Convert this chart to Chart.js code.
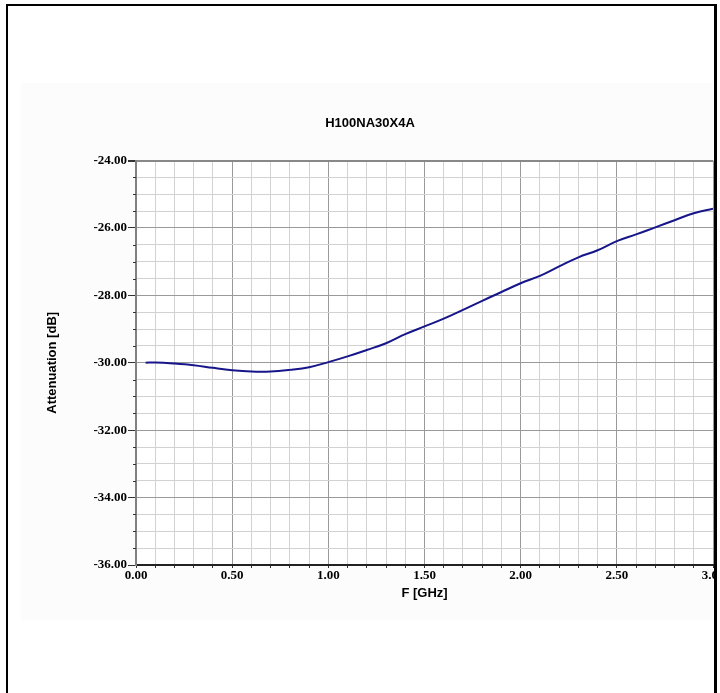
<!DOCTYPE html>
<html>
<head>
<meta charset="utf-8">
<script src="https://cdn.jsdelivr.net/npm/chart.js@4.4.1/dist/chart.umd.min.js"></script>
<style>
  html, body { margin: 0; padding: 0; background: #fff; overflow: hidden; }
  #wrap { position: relative; width: 717px; height: 693px; overflow: hidden; }
  #panel { position: absolute; left: 21px; top: 83px; width: 692px; height: 537px; background: #fcfcfc; }
  #chart { position: absolute; left: 0; top: 0; }
  #frame {
    position: absolute; left: 6px; top: 4px; width: 711px; height: 800px;
    box-sizing: border-box; border: 2px solid #000; border-right-width: 3px; pointer-events: none;
  }
</style>
</head>
<body>
<div id="wrap">
  <div id="panel"></div>
  <canvas id="chart" width="760" height="693"></canvas>
  <div id="frame"></div>
</div>
<script>
// frequency points [GHz] and attenuation [dB]
const freq = [0.05, 0.1, 0.2, 0.3, 0.4, 0.5, 0.6, 0.7, 0.8, 0.9, 1.0,
  1.1, 1.2, 1.3, 1.4, 1.5, 1.6, 1.7, 1.8, 1.9, 2.0,
  2.1, 2.2, 2.3, 2.4, 2.5, 2.6, 2.7, 2.8, 2.9, 3.0];
const attenuation = [-30.00, -29.99, -30.02, -30.07, -30.15, -30.22, -30.26, -30.26, -30.21, -30.13, -29.98,
  -29.81, -29.62, -29.42, -29.15, -28.92, -28.69, -28.43, -28.16, -27.90, -27.64,
  -27.42, -27.14, -26.87, -26.66, -26.39, -26.19, -25.98, -25.77, -25.56, -25.43];

const chartTitle = 'H100NA30X4A';
const xTitle = 'F [GHz]';
const yTitle = 'Attenuation [dB]';
const xRange = [0, 3];       // major every 0.5, minor every 0.1
const yRange = [-36, -24];   // major every 2, minor every 0.5

const tickFont = { family: '"Liberation Serif", "Times New Roman", serif', size: 13, weight: 'bold' };
const titleFont = { family: '"Liberation Sans", Arial, sans-serif', size: 13, weight: 'bold' };

function isMajorX(v) { return Math.abs(v * 2 - Math.round(v * 2)) < 1e-6; }
function isMajorY(v) { return Math.abs(v / 2 - Math.round(v / 2)) < 1e-6; }

// white plot area + short minor ticks on the y axis
const plotDecor = {
  id: 'plotDecor',
  beforeDraw(chart) {
    const a = chart.chartArea, ctx = chart.ctx;
    ctx.save();
    ctx.fillStyle = '#fff';
    ctx.fillRect(a.left, a.top, a.right - a.left, a.bottom - a.top);
    ctx.restore();
  },
  afterDraw(chart) {
    const s = chart.scales.y, ctx = chart.ctx;
    ctx.save();
    ctx.strokeStyle = '#333';
    ctx.lineWidth = 1;
    s.ticks.forEach(t => {
      if (isMajorY(t.value)) return;
      const y = Math.round(s.getPixelForValue(t.value)) + 0.5;
      ctx.beginPath();
      ctx.moveTo(s.right - 3, y);
      ctx.lineTo(s.right, y);
      ctx.stroke();
    });
    ctx.restore();
  }
};

new Chart(document.getElementById('chart'), {
  type: 'scatter',
  data: {
    datasets: [{
      data: freq.map((f, i) => ({ x: f, y: attenuation[i] })),
      showLine: true,
      borderColor: '#16168a',
      borderWidth: 2,
      pointRadius: 0,
      tension: 0.4
    }]
  },
  options: {
    responsive: false,
    animation: false,
    layout: { padding: { left: 27, right: 47, top: 0, bottom: 68 } },
    plugins: {
      legend: { display: false },
      tooltip: { enabled: false },
      title: {
        display: true,
        text: chartTitle,
        color: '#000',
        font: titleFont,
        padding: { top: 116, bottom: 29 }
      }
    },
    scales: {
      x: {
        type: 'linear',
        min: xRange[0],
        max: xRange[1],
        afterFit(scale) { scale.height = 60; },
        ticks: {
          stepSize: 0.1,
          autoSkip: false,
          maxTicksLimit: 100,
          maxRotation: 0,
          minRotation: 0,
          padding: 0,
          color: '#000',
          font: tickFont,
          callback: v => isMajorX(v) ? v.toFixed(2) : ''
        },
        grid: {
          color: c => isMajorX(c.tick.value) ? '#9a9a9a' : '#d2d2d2',
          tickColor: '#333',
          tickLength: 3
        },
        border: { color: '#222', width: 2 },
        title: {
          display: true,
          text: xTitle,
          color: '#000',
          font: titleFont,
          padding: { top: 0, bottom: 24 }
        }
      },
      y: {
        min: yRange[0],
        max: yRange[1],
        afterFit(scale) { scale.width = 109; },
        ticks: {
          stepSize: 0.5,
          autoSkip: false,
          maxTicksLimit: 100,
          padding: 1,
          color: '#000',
          font: tickFont,
          callback: v => isMajorY(v) ? v.toFixed(2) : ''
        },
        grid: {
          color: c => c.tick.value === yRange[1] ? '#888' : (isMajorY(c.tick.value) ? '#9a9a9a' : '#d2d2d2'),
          lineWidth: c => c.tick.value === yRange[1] ? 2 : 1,
          tickColor: c => isMajorY(c.tick.value) ? '#333' : 'rgba(0,0,0,0)',
          tickLength: 8
        },
        border: { color: '#808080', width: 2 },
        title: {
          display: true,
          text: yTitle,
          color: '#000',
          font: titleFont,
          padding: { top: 18, bottom: 0 }
        }
      }
    }
  },
  plugins: [plotDecor]
});
</script>
</body>
</html>
